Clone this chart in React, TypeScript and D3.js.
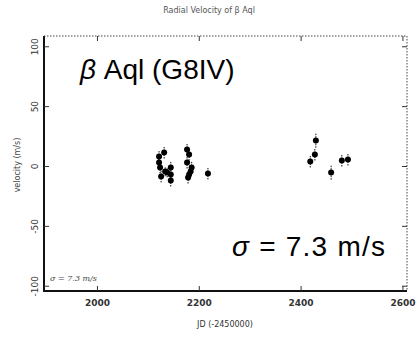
import React, { useEffect, useRef } from "react"
import * as d3 from "d3"

// radial velocities
const jd = [2131, 2121, 2121, 2123, 2125, 2133, 2137, 2144, 2144, 2144,
  2176, 2180, 2176, 2185, 2183, 2180, 2178, 2217,
  2429, 2427, 2418, 2459, 2480, 2492]
const velocity = [11.7, 8.3, 3.3, -0.8, -8.3, -4.2, -5, -0.8, -6.7, -11.7,
  14.2, 10, 3.3, -0.8, -4.2, -6.7, -9.2, -5.8,
  21.7, 10, 4.2, -5, 5, 5.8]
const errors = [5, 5, 5, 5, 5, 4, 4, 5, 5, 5, 5, 5, 5, 5, 5, 5, 5, 5, 6, 5, 5, 6, 5, 5]
const xTicks = [2000, 2200, 2400, 2600]
const yTicks = [100, 50, 0, -50, -100]

export default function App() {
  const ref = useRef<SVGSVGElement>(null)

  useEffect(() => {
    const width = 418
    const height = 338
    const left = 44, right = 407, top = 36, bottom = 291

    const svg = d3.select(ref.current)
    svg.selectAll("*").remove()

    const x = d3.scaleLinear().domain([1895, 2608]).range([left, right])
    const y = d3.scaleLinear().domain([-104, 109]).range([bottom, top])

    svg.append("rect").attr("width", width).attr("height", height).attr("fill", "white")

    // title
    svg.append("text")
      .attr("x", 209).attr("y", 13)
      .attr("text-anchor", "middle")
      .attr("font-family", "DejaVu Sans, sans-serif")
      .attr("font-size", 8)
      .attr("fill", "#555")
      .text("Radial Velocity of β Aql")

    // frame: solid left/bottom, dotted top/right
    svg.append("path")
      .attr("d", `M${left},${top}V${bottom}H${right}`)
      .attr("fill", "none").attr("stroke", "#111").attr("stroke-width", 2)
    svg.append("path")
      .attr("d", `M${left},${top}H${right}V${bottom}`)
      .attr("fill", "none").attr("stroke", "#444").attr("stroke-width", 1)
      .attr("stroke-dasharray", "1.5,1.5")

    // ticks
    const g = svg.append("g").attr("stroke", "#333")
    xTicks.forEach(t => {
      g.append("line").attr("x1", x(t)).attr("x2", x(t)).attr("y1", bottom).attr("y2", bottom - 5)
      g.append("line").attr("x1", x(t)).attr("x2", x(t)).attr("y1", top).attr("y2", top + 5)
    })
    yTicks.forEach(t => {
      g.append("line").attr("x1", left).attr("x2", left + 5).attr("y1", y(t)).attr("y2", y(t))
      g.append("line").attr("x1", right).attr("x2", right - 5).attr("y1", y(t)).attr("y2", y(t))
    })

    svg.append("g")
      .selectAll("text")
      .data(xTicks)
      .join("text")
      .attr("x", d => x(d))
      .attr("y", 306)
      .attr("text-anchor", "middle")
      .attr("font-family", "DejaVu Sans, sans-serif")
      .attr("font-size", 9)
      .attr("font-weight", "bold")
      .attr("fill", "#333")
      .text(d => d)

    svg.append("g")
      .selectAll("text")
      .data(yTicks)
      .join("text")
      .attr("transform", d => `translate(38,${y(d)}) rotate(-90)`)
      .attr("text-anchor", "middle")
      .attr("font-family", "DejaVu Sans, sans-serif")
      .attr("font-size", 9)
      .attr("fill", "#333")
      .text(d => d)

    // axis titles
    svg.append("text")
      .attr("x", 225).attr("y", 327)
      .attr("text-anchor", "middle")
      .attr("font-family", "DejaVu Sans, sans-serif")
      .attr("font-size", 8)
      .attr("fill", "#333")
      .text("JD (-2450000)")
    svg.append("text")
      .attr("transform", "translate(20,165) rotate(-90)")
      .attr("text-anchor", "middle")
      .attr("font-family", "DejaVu Sans, sans-serif")
      .attr("font-size", 8)
      .attr("fill", "#444")
      .text("velocity (m/s)")

    // error bars
    svg.append("g")
      .attr("stroke", "#111").attr("stroke-width", 1).attr("stroke-dasharray", "1.5,1")
      .selectAll("line")
      .data(jd.map((d, i) => i))
      .join("line")
      .attr("x1", i => x(jd[i])).attr("x2", i => x(jd[i]))
      .attr("y1", i => y(velocity[i] - errors[i]))
      .attr("y2", i => y(velocity[i] + errors[i]))

    // points
    svg.append("g")
      .attr("fill", "#000")
      .selectAll("circle")
      .data(jd.map((d, i) => i))
      .join("circle")
      .attr("cx", i => x(jd[i]))
      .attr("cy", i => y(velocity[i]))
      .attr("r", 3)

    // annotations
    svg.append("text")
      .attr("x", 80).attr("y", 79)
      .attr("font-family", "Liberation Sans, Arial, sans-serif")
      .attr("font-size", 28)
      .attr("fill", "#000")
      .call(t => t.append("tspan").attr("font-style", "italic").text("β"))
      .call(t => t.append("tspan").text("  Aql (G8IV)"))

    svg.append("text")
      .attr("x", 232).attr("y", 256)
      .attr("font-family", "Liberation Sans, Arial, sans-serif")
      .attr("font-size", 28)
      .attr("textLength", 153)
      .attr("fill", "#000")
      .call(t => t.append("tspan").attr("font-style", "italic").text("σ"))
      .call(t => t.append("tspan").text(" = 7.3 m/s"))

    svg.append("text")
      .attr("x", 50).attr("y", 281)
      .attr("font-family", "DejaVu Serif, serif")
      .attr("font-style", "italic")
      .attr("font-size", 8)
      .attr("fill", "#444")
      .text("σ = 7.3 m/s")
  }, [])

  return (
    <svg ref={ref} width={418} height={338}
      style={{ position: "absolute", left: 0, top: 0, display: "block" }} />
  )
}
